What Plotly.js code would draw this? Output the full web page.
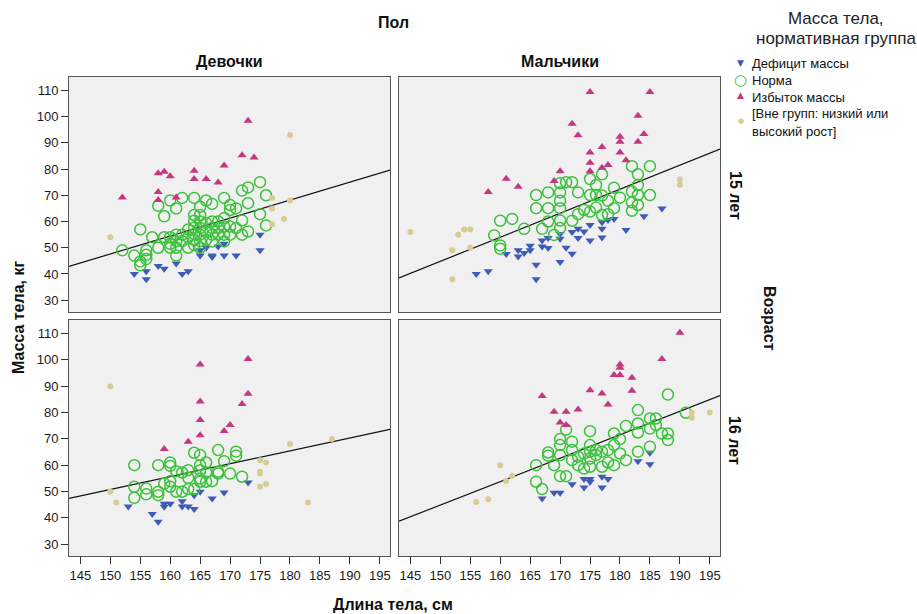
<!DOCTYPE html>
<html><head><meta charset="utf-8">
<script src="https://cdn.plot.ly/plotly-3.0.1.min.js"></script>
<style>html,body{margin:0;padding:0;background:#fff}#chart{width:917px;height:614px}</style>
</head><body><div id="chart"></div>
<script>
// ---- Data: Girls, 15 years ----
const g15DefH = [154,156,156,158,159,161,162,163,165,167,167,169,171,175,175,169,168,166,165];
const g15DefW = [40,41,38,43,42,44,40,41,47,47,46.5,47,47,49,55,51.5,50.5,50,49];
const g15NormH = [152,154,155,155,155,156,156,156,157,158,158,159,159,160,160,160,160,161,161,161,161,161,162,162,162,163,163,163,164,164,164,164,164,164,164,165,165,165,165,165,165,165,166,166,166,166,167,167,167,167,167,168,168,168,169,169,169,169,169,170,170,170,170,171,171,172,172,172,173,173,173,175,175,176,176];
const g15NormW = [49,47,57,44.8,43.3,49,47.3,45.7,54,50,66,62,54,68,54,51.5,50,65,55,52.5,50,47,69,55,52.5,57,54,50,69,62.5,60.3,57.7,55.2,53,51,65.6,62.5,60,57.5,55,52.5,50,68,59.4,56.2,53,66.7,60,57.5,55,52.4,60,57.5,55,69,61.3,58.1,55,52.4,66.3,64.4,58.1,55,65,57.5,71.8,60.4,55,73,67,56.2,75,62.8,70,58.5];
const g15ExcH = [173,172,174,169,164,158,159,160,164,166,168,158,152,158,161];
const g15ExcW = [98.4,85.3,84.4,81.4,79.4,78.4,79,77.3,76.2,76.2,74.9,71.3,69.2,68.2,69.2];
const g15OutH = [150,180,177,177,177,180,179];
const g15OutW = [54,93,69,65,59,68,61];

// ---- Data: Boys, 15 years ----
const b15DefH = [156,158,166,166,170,161,163,163,164,165,165,167,167,168,168,170,170,171,172,172,173,173,174,175,175,177,177,177,178,179,181,184,187];
const b15DefW = [40,41,38,43.5,44.6,47.6,49,46.7,48,50.8,49,52.8,50.5,49.9,53.7,55.2,53.4,50,47.7,56,57.2,53.7,56.2,58.7,52.8,59.7,57.2,53.9,60.6,61,56.8,62,65];
const b15NormH = [159,160,160,160,162,164,166,166,167,168,168,168,169,170,170,170,170,170,170,171,172,172,173,173,174,175,175,175,176,176,176,177,177,177,178,178,179,179,180,182,182,182,182,183,183,183,183,185,185];
const b15NormW = [54.7,60.3,50.9,49.6,61,57.2,70.1,65.1,57.2,71.1,65.1,60,54.9,74.6,71.1,67.9,65.1,60.4,57.5,75,75,60.3,71.1,62.8,64.4,76.2,70.1,63.8,73.9,70.1,65.3,78,69.9,62.5,67.9,62.8,72.9,65.1,69.1,81.1,71.4,67.3,64.1,78,73.9,70.1,66.3,81.1,70.1];
const b15ExcH = [175,185,183,172,173,184,180,180,183,177,175,180,181,175,178,177,175,170,169,161,163,158];
const b15ExcW = [109.4,109.4,100.3,97.3,92.9,93.4,92.3,90.4,90.4,88.4,86.3,86.3,83.4,82.4,81.5,80.5,79.2,79.2,75.4,76.3,73.3,71.3];
const b15OutH = [145,153,154,155,152,155,152,190,190];
const b15OutW = [56,55,57,57,49,50,38,76,74];

// ---- Data: Girls, 16 years ----
const g16DefH = [153,157,158,159,159,160,162,162,163,164,164,165,167,169,173];
const g16DefW = [44.3,41.4,38.5,45.3,44.2,45.3,46.3,44.3,44.3,43.3,48.6,49.9,47.3,49.6,53.4];
const g16NormH = [154,154,154,156,156,158,158,158,159,160,160,160,160,161,161,162,162,163,163,163,164,164,165,165,165,165,165,166,166,166,167,168,168,168,169,170,171,171,172];
const g16NormW = [60,51.8,47.6,51.1,48.9,60,49.9,48.6,53,61,59.7,53.9,51.8,57.7,49.9,57.2,49.9,58.1,55.2,50.9,64.7,50.9,63.8,60,58.1,54.9,53.7,61,57.2,53.7,53.9,65.7,57.5,56.8,61.5,56.8,65.1,63.6,55.6];
const g16ExcH = [165,173,173,172,165,165,170,169,165,163,159];
const g16ExcW = [98.2,100.3,87.1,83.2,84.2,77.1,75.2,73,71.3,68.9,66.1];
const g16OutH = [150,150,151,175,176,175,175,176,175,180,183,187];
const g16OutW = [89.9,49.9,45.8,61.9,61,57.5,56.8,52.8,51.8,68,45.8,69.9];

// ---- Data: Boys, 16 years ----
const b16DefH = [167,169,170,172,174,175,175,174,177,177,178,183,185,185];
const b16DefW = [47.3,49.5,49.5,52.7,54.7,54.7,53.7,51.5,55.6,51.5,54.7,61.5,64.7,60.3];
const b16NormH = [166,166,167,168,168,169,170,170,170,170,171,171,172,172,172,173,173,174,174,175,175,175,175,175,176,176,177,177,178,178,179,179,179,180,180,181,181,183,183,183,183,185,185,185,186,186,187,188,188,188,191];
const b16NormW = [60,53.7,50.9,64.8,63.6,60,69.9,67.6,63.8,55.8,55.8,73.5,68.9,65.7,61.9,63.2,60,64.4,58.7,72.9,67.6,65.1,62.5,59.4,65.7,63.8,65.1,59.4,65.7,61,72,67.6,60,69.9,64.4,74.9,61.9,80.9,75.8,72.4,65.1,77.7,73.9,67,77.7,75.2,72,86.8,72,69.5,79.9];
const b16ExcH = [190,187,180,180,179,180,182,182,175,177,178,173,167,169,171,170,171];
const b16ExcW = [110.3,100.3,98.2,97,94.2,94.2,93.2,88.2,88.4,87.2,83,81.1,86.2,80.3,80.3,76.2,75.2];
const b16OutH = [160,156,158,161,162,192,192,195];
const b16OutW = [60,46,47,54,56,80,78,80];

// ---- Fit lines (endpoints) ----
const fitX = [143.1, 196.7];
const fitG15 = [42.9, 79.6];
const fitB15 = [38.5, 87.6];
const fitG16 = [47.4, 73.6];
const fitB16 = [38.7, 86.4];

// ---- Labels ----
const groupNames = ['Дефицит массы', 'Норма', 'Избыток массы', '[Вне групп: низкий или', 'высокий рост]'];
const legendTitle = ['Масса тела,', 'нормативная группа'];
const xTicks = [145,150,155,160,165,170,175,180,185,190,195];
const yTicks = [30,40,50,60,70,80,90,100,110];

const cBlue = '#3f5bb5', cGreen = '#3cc13c', cPink = '#c4387f', cBeige = '#d5cd94';
const groupColors = [cBlue, cGreen, cPink, cBeige];
const markers = [
  {symbol:'triangle-down', size:8, color:cBlue},
  {symbol:'circle-open', size:11, color:cGreen, line:{width:1.5, color:cGreen}},
  {symbol:'triangle-up', size:8, color:cPink},
  {symbol:'circle', size:6, color:cBeige}
];

const panels = [
  {xa:'x',  ya:'y',  sets:[[g15DefH,g15DefW],[g15NormH,g15NormW],[g15ExcH,g15ExcW],[g15OutH,g15OutW]], fit:fitG15},
  {xa:'x2', ya:'y2', sets:[[b15DefH,b15DefW],[b15NormH,b15NormW],[b15ExcH,b15ExcW],[b15OutH,b15OutW]], fit:fitB15},
  {xa:'x3', ya:'y3', sets:[[g16DefH,g16DefW],[g16NormH,g16NormW],[g16ExcH,g16ExcW],[g16OutH,g16OutW]], fit:fitG16},
  {xa:'x4', ya:'y4', sets:[[b16DefH,b16DefW],[b16NormH,b16NormW],[b16ExcH,b16ExcW],[b16OutH,b16OutW]], fit:fitB16}
];

const traces = [];
panels.forEach((p, pi) => {
  traces.push({x: fitX, y: p.fit, xaxis:p.xa, yaxis:p.ya, mode:'lines', line:{color:'#111', width:1.2}, showlegend:false, hoverinfo:'skip'});
  p.sets.forEach((s, gi) => {
    traces.push({x:s[0], y:s[1], xaxis:p.xa, yaxis:p.ya, type:'scatter', mode:'markers',
      name: groupNames[gi], showlegend:false, marker: markers[gi]});
  });
});

const FAM = 'Liberation Sans, Arial, sans-serif';
const xRange = [143.1, 196.7];
const yRange = [25.5, 115.1];
const fnt = {family:FAM, size:13, color:'#1a1a1a'};
function xAx(dom, anchor, labels){
  return {domain:dom, anchor:anchor, range:xRange, showgrid:false, zeroline:false,
    showline:true, mirror:true, linecolor:'#555', linewidth:1,
    tickvals: labels ? xTicks : [], ticks: labels ? 'outside' : '', ticklen:7, tickcolor:'#333',
    showticklabels: labels, tickfont:fnt, automargin:false};
}
function yAx(dom, anchor, labels){
  return {domain:dom, anchor:anchor, range:yRange, showgrid:false, zeroline:false,
    showline:true, mirror:true, linecolor:'#555', linewidth:1,
    tickvals: labels ? yTicks : [], ticks: labels ? 'outside' : '', ticklen:7, tickcolor:'#333',
    showticklabels: labels, tickfont:fnt, automargin:false};
}
const dL = [69/917, 390/917], dR = [399/917, 720/917];
const dT = [1-312/614, 1-77/614], dB = [1-556/614, 1-320/614];

const bold = {family:FAM, size:16, color:'#111'};
const px = v => v/917, py = v => 1 - v/614;
const ann = (text, x, y, angle) => ({text:'<b>'+text+'</b>', x:px(x), y:py(y), xref:'paper', yref:'paper', showarrow:false, font:bold, textangle:angle||0, xanchor:'center', yanchor:'middle'});

// legend drawn as annotations (glyph + label)
const legFont = {family:FAM, size:13, color:'#111'};
const glyphs = [
  {t:'▼', size:9, y:63},
  {t:'○', size:15, y:80},
  {t:'▲', size:9, y:95},
  {t:'●', size:7, y:121}
];
const labelY = [63.5, 80.5, 97.5, 114, 131];
const legendAnns = [];
legendTitle.forEach((t, i) => {
  legendAnns.push({text:t, x:px(836), y:py(18 + 20*i), xref:'paper', yref:'paper', showarrow:false, xanchor:'center', yanchor:'middle', borderpad:0, font:{family:FAM, size:17, color:'#222'}});
});
glyphs.forEach((g, i) => {
  legendAnns.push({text:g.t, x:px(740.5), y:py(g.y), xref:'paper', yref:'paper', showarrow:false, xanchor:'center', yanchor:'middle', borderpad:0,
    font:{family:'DejaVu Sans, sans-serif', size:g.size, color:groupColors[i]}});
});
groupNames.forEach((n, i) => {
  legendAnns.push({text:n, x:px(751), y:py(labelY[i]), xref:'paper', yref:'paper', showarrow:false, xanchor:'left', yanchor:'middle', align:'left', borderpad:0, font:legFont});
});

const layout = {
  width:917, height:614,
  margin:{l:0, r:0, t:0, b:0},
  paper_bgcolor:'#fff', plot_bgcolor:'#f0f0f0',
  font:{family:FAM, color:'#222'},
  xaxis: xAx(dL, 'y', false),
  yaxis: yAx(dT, 'x', true),
  xaxis2: xAx(dR, 'y2', false),
  yaxis2: yAx(dT, 'x2', false),
  xaxis3: xAx(dL, 'y3', true),
  yaxis3: yAx(dB, 'x3', true),
  xaxis4: xAx(dR, 'y4', true),
  yaxis4: yAx(dB, 'x4', false),
  showlegend:false,
  annotations:[
    ann('Пол', 393, 22),
    ann('Девочки', 229, 61),
    ann('Мальчики', 560, 61),
    ann('15 лет', 735, 195, 90),
    ann('16 лет', 735, 440, 90),
    ann('Возраст', 770, 318, 90),
    ann('Масса тела, кг', 18, 318, -90),
    ann('Длина тела, см', 393, 604)
  ].concat(legendAnns)
};
Plotly.newPlot('chart', traces, layout, {displayModeBar:false, staticPlot:true});
</script>
</body></html>
